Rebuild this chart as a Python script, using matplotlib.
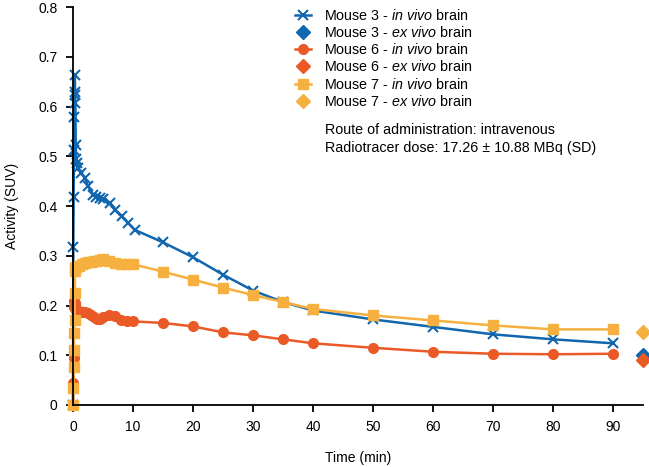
import matplotlib.pyplot as plt
import numpy as np

plt.rcParams['font.family'] = ['Liberation Sans', 'DejaVu Sans']
plt.rcParams['mathtext.fontset'] = 'custom'
plt.rcParams['mathtext.rm'] = 'Liberation Sans'
plt.rcParams['mathtext.it'] = 'Liberation Sans:italic'

# late frames shared by all three mice
t_late = [15, 20, 25, 30, 35, 40, 50, 60, 70, 80, 90]

# Mouse 3 in vivo
t3 = [0, 0.05, 0.1, 0.15, 0.2, 0.25, 0.3, 0.35, 0.4, 0.45, 0.5, 0.6,
      0.9, 1.4, 2, 2.5, 3.4, 3.9, 4.5, 5, 6.2, 7, 8.1, 9.2, 10.3] + t_late
m3 = [0, 0.318, 0.419, 0.513, 0.58, 0.63, 0.663, 0.623, 0.607, 0.523, 0.495, 0.486,
      0.476, 0.466, 0.456, 0.44, 0.422, 0.419, 0.416, 0.415, 0.406, 0.392, 0.379, 0.366, 0.352,
      0.327, 0.297, 0.262, 0.23, 0.207, 0.19, 0.172, 0.157, 0.142, 0.132, 0.124]

# Mouse 6 in vivo
t6 = [0, 0.05, 0.1, 0.15, 0.2, 0.25, 0.3, 0.4, 0.5, 1, 1.5, 2, 2.5, 3, 3.5,
      4, 4.5, 5, 6, 7, 8, 9, 10] + t_late
m6 = [0, 0.044, 0.094, 0.197, 0.21, 0.205, 0.2, 0.195, 0.19, 0.188, 0.187, 0.186,
      0.184, 0.18, 0.176, 0.173, 0.172, 0.176, 0.181, 0.178, 0.171, 0.169, 0.168,
      0.165, 0.158, 0.146, 0.14, 0.132, 0.124, 0.115, 0.107, 0.103, 0.102, 0.103]

# Mouse 7 in vivo
t7 = [0, 0.05, 0.1, 0.15, 0.2, 0.25, 0.3, 0.35, 0.4, 0.5, 1, 1.5, 2, 2.5, 3,
      3.5, 4, 4.5, 5, 6, 7, 8, 9, 10] + t_late
m7 = [0, 0.034, 0.077, 0.11, 0.145, 0.171, 0.225, 0.27, 0.275, 0.278, 0.28, 0.283,
      0.285, 0.287, 0.288, 0.29, 0.29, 0.292, 0.293, 0.29, 0.285, 0.284, 0.283, 0.283,
      0.268, 0.252, 0.236, 0.221, 0.207, 0.193, 0.18, 0.17, 0.16, 0.152, 0.152]

# ex vivo brain values
t_ex = 95
ex3 = 0.100
ex6 = 0.090
ex7 = 0.147

blue = '#1166ae'
red = '#e95a26'
yel = '#f6b03f'

fig = plt.figure(figsize=(6.49, 4.67), dpi=100)
ax = fig.add_axes([0.1125, 0.1328, 0.8785, 0.852])

ax.plot(t3, m3, color=blue, lw=1.8, marker='x', ms=7, mew=1.5, clip_on=False,
        label=r'Mouse 3 - $\it{in\ vivo}$ brain')
ax.plot([t_ex], [ex3], ls='none', marker='D', ms=7.5, color=blue, clip_on=False,
        label=r'Mouse 3 - $\it{ex\ vivo}$ brain')
ax.plot(t6, m6, color=red, lw=1.8, marker='o', ms=7, clip_on=False,
        label=r'Mouse 6 - $\it{in\ vivo}$ brain')
ax.plot([t_ex], [ex6], ls='none', marker='D', ms=7.5, color=red, clip_on=False,
        label=r'Mouse 6 - $\it{ex\ vivo}$ brain')
ax.plot(t7, m7, color=yel, lw=1.8, marker='s', ms=7, clip_on=False,
        label=r'Mouse 7 - $\it{in\ vivo}$ brain')
ax.plot([t_ex], [ex7], ls='none', marker='D', ms=7.5, color=yel, clip_on=False,
        label=r'Mouse 7 - $\it{ex\ vivo}$ brain')

ax.set_xlim(0, 95)
ax.set_ylim(0, 0.8)
ax.set_xticks(np.arange(0, 91, 10))
ax.set_yticks(np.arange(0, 0.81, 0.1))
ax.set_yticklabels(['0', '0.1', '0.2', '0.3', '0.4', '0.5', '0.6', '0.7', '0.8'])
ax.spines['top'].set_visible(False)
ax.spines['right'].set_visible(False)
ax.spines['left'].set_linewidth(1.3)
ax.spines['bottom'].set_linewidth(1.3)
ax.tick_params(direction='out', length=5, width=1.3, labelsize=10, pad=6)
ax.set_xlabel('Time (min)', fontsize=10, labelpad=12)
ax.set_ylabel('Activity (SUV)', fontsize=10, labelpad=14)

ax.legend(loc='upper left', bbox_to_anchor=(0.38, 1.012), frameon=False, fontsize=10.3,
          handlelength=1.1, handletextpad=0.9, labelspacing=0.15, borderaxespad=0)

ax.text(0.442, 0.708, 'Route of administration: intravenous\n'
        'Radiotracer dose: 17.26 \u00b1 10.88 MBq (SD)',
        transform=ax.transAxes, fontsize=10.3, va='top', linespacing=1.3)

fig.savefig('out.png', dpi=100)
